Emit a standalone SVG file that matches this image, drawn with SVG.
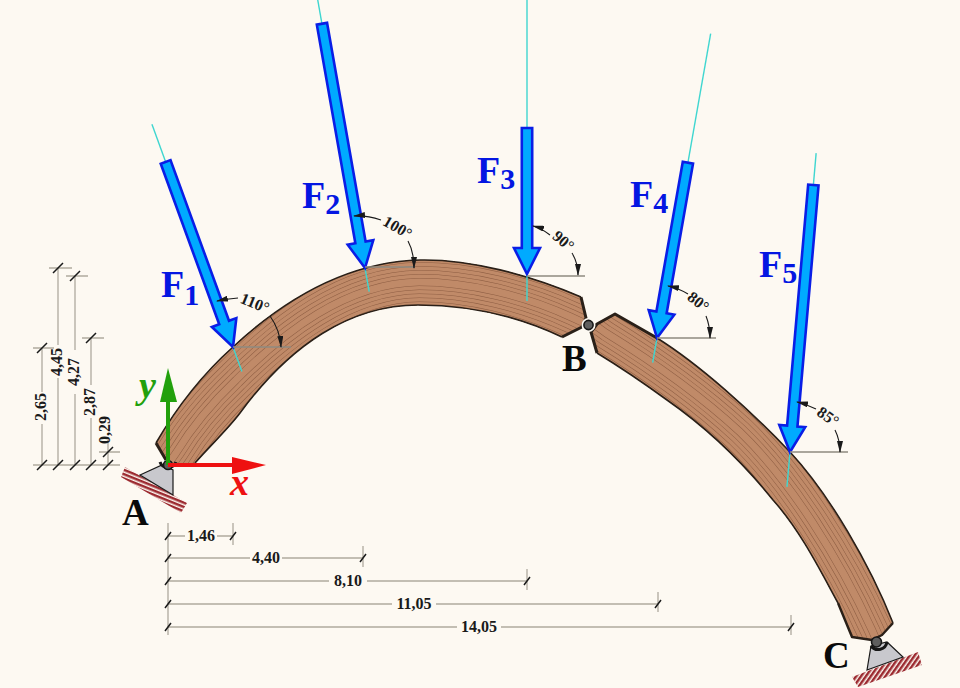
<svg xmlns="http://www.w3.org/2000/svg" xmlns:xlink="http://www.w3.org/1999/xlink" width="960" height="688" viewBox="0 0 960 688">
<style>
text{font-family:"Liberation Serif","Times New Roman",serif;font-weight:bold}
.dim{font-size:16px;fill:#1a1a1a;text-anchor:middle}
.ang{font-size:16px;fill:#1a1a1a;text-anchor:middle}
.lab{font-size:37px;fill:#0a0a0a}
.f{font-size:38px;fill:#0416e2}
.f tspan{font-size:30px}
.dl{stroke:#b0aa9e;stroke-width:1.3;fill:none}
.tk{stroke:#1a1a1a;stroke-width:1.5;fill:none}
.hz{stroke:#8f8a80;stroke-width:1.3;fill:none}
.am{stroke:#1a1a1a;stroke-width:1.1;fill:none;marker-end:url(#ah)}
.cy{stroke:#3fd6d0;stroke-width:1.4;fill:none}
.fa{fill:#00aaff;stroke:#0a1ee6;stroke-width:2.6;stroke-linejoin:miter}
.ol{fill:none;stroke:#2a2018;stroke-width:1.6;stroke-linejoin:round}
.jt{fill:none;stroke:#2a2018;stroke-width:3;stroke-linejoin:round}
.sp{fill:#c8c8cd;stroke:#1a1a1a;stroke-width:1.2}
.hg{fill:#5e5e5e;stroke:#161616;stroke-width:1.6}
.wa{stroke:#8f5f44;fill:none;stroke-linejoin:round}
.wb{stroke:#c08a68;fill:none;stroke-linejoin:round}
</style>
<defs>
<marker id="ah" markerUnits="userSpaceOnUse" viewBox="0 0 12 6" refX="11" refY="3" markerWidth="12" markerHeight="6" orient="auto"><path d="M0,0 L12,3 L0,6 Z" fill="#1a1a1a"/></marker>
<pattern id="hA" patternUnits="userSpaceOnUse" width="4" height="4" patternTransform="rotate(22)"><rect width="4" height="2.5" fill="#9c2a30"/></pattern>
<pattern id="hC" patternUnits="userSpaceOnUse" width="4" height="4" patternTransform="rotate(-55)"><rect width="4" height="2.5" fill="#9c2a30"/></pattern>
<clipPath id="cl"><path d="M156,443 C178,405 205,372 233,347 C275,308 340,262 420,260 C470,259 530,275 581,297 L586,318 L582,327 L562,337 C520,317 470,305 418,305 C350,305 290,345 240,413 C228,429 208,448 195,463 L168,465 L166,460 Z"/></clipPath>
<clipPath id="cr"><path d="M615,314 L657,338 C700,365 750,410 790,452 C830,495 870,565 893,623 L882,635 L872,640 L852,637 L838,603 C820,570 800,530 773,500 C745,465 710,430 667,400 C645,384 620,367 597,353 L591,332 L597,324 Z"/></clipPath>
<path id="lc" d="M150,490 L176,453 C193,425 215,400 236,380 C282,334 345,283 419,282 C470,282 525,296 571,317 L610,335"/>
<path id="rc" d="M585,318 L606,333 C650,360 700,395 740,432 C790,480 840,560 872,630 L885,660"/>
</defs>
<rect width="960" height="688" fill="#fdf9f2"/>

<g id="dimensions">
<path class="dl" d="M42,349V392M42,424V465M58,268V345M58,378V465M75,276V350M75,394V465M91,338V385M91,418V465M108,452V447M108,440V465"/>
<path class="dl" d="M33,465H120M33,348H54M49,268H72M66,276H88M82,338H104M99,452H120"/>
<path class="tk" d="M37,470L47,460M53,470L63,460M70,470L80,460M86,470L96,460M103,470L113,460M37,353L47,343M53,273L63,263M70,281L80,271M86,343L96,333M103,457L113,447"/>
<text class="dim" transform="translate(46,407) rotate(-90)">2,65</text>
<text class="dim" transform="translate(62,362) rotate(-90)">4,45</text>
<text class="dim" transform="translate(79,372) rotate(-90)">4,27</text>
<text class="dim" transform="translate(95,402) rotate(-90)">2,87</text>
<text class="dim" transform="translate(110,430) rotate(-90)">0,29</text>
<path class="dl" d="M168,523V635M233,523V545M363,546V567M527,569V590M658,592V612M791,615V635"/>
<path class="dl" d="M168,536H185M217,536H233M168,558H250M282,558H363M168,581H329M367,581H527M168,604H392M436,604H658M168,627H457M501,627H791"/>
<path class="tk" d="M165,540L171,532M230,540L236,532M360,562L366,554M524,585L530,577M655,608L661,600M788,631L794,623M165,562L171,554M165,585L171,577M165,608L171,600M165,631L171,623"/>
<text class="dim" x="201" y="541">1,46</text>
<text class="dim" x="266" y="563">4,40</text>
<text class="dim" x="348" y="586">8,10</text>
<text class="dim" x="414" y="609">11,05</text>
<text class="dim" x="479" y="632">14,05</text>
</g>

<g id="support-A">
<polygon fill="url(#hA)" points="125,467 187,503 181,513 121,477"/>
<polygon class="sp" points="140,475 162,465 173,470 173,495"/>
</g>
<g id="support-C">
<polygon fill="url(#hC)" points="918,652 922,665 858,687 852,677"/>
<polygon class="sp" points="867,670 903,657 887,642 871,646"/>
</g>

<g id="arch-AB">
<g clip-path="url(#cl)">
<rect x="140" y="250" width="460" height="230" fill="#c08a68"/>
<use href="#lc" class="wa" stroke-width="88"/><use href="#lc" class="wb" stroke-width="87"/>
<use href="#lc" class="wa" stroke-width="80"/><use href="#lc" class="wb" stroke-width="79"/>
<use href="#lc" class="wa" stroke-width="72"/><use href="#lc" class="wb" stroke-width="71"/>
<use href="#lc" class="wa" stroke-width="64"/><use href="#lc" class="wb" stroke-width="63"/>
<use href="#lc" class="wa" stroke-width="56"/><use href="#lc" class="wb" stroke-width="55"/>
<use href="#lc" class="wa" stroke-width="48"/><use href="#lc" class="wb" stroke-width="47"/>
<use href="#lc" class="wa" stroke-width="40"/><use href="#lc" class="wb" stroke-width="39"/>
<use href="#lc" class="wa" stroke-width="32"/><use href="#lc" class="wb" stroke-width="31"/>
<use href="#lc" class="wa" stroke-width="24"/><use href="#lc" class="wb" stroke-width="23"/>
<use href="#lc" class="wa" stroke-width="16"/><use href="#lc" class="wb" stroke-width="15"/>
<use href="#lc" class="wa" stroke-width="8"/><use href="#lc" class="wb" stroke-width="7"/>
</g>
<path class="ol" d="M156,443 C178,405 205,372 233,347 C275,308 340,262 420,260 C470,259 530,275 581,297"/>
<path class="ol" d="M562,337 C520,317 470,305 418,305 C350,305 290,345 240,413 C228,429 208,448 195,463"/>
<path class="jt" d="M581,297 L586,318 L582,327 L562,337"/>
<path class="jt" d="M156,443 L166,460"/>
</g>

<g id="arch-BC">
<g clip-path="url(#cr)">
<rect x="585" y="305" width="315" height="340" fill="#c08a68"/>
<use href="#rc" class="wa" stroke-width="88"/><use href="#rc" class="wb" stroke-width="87"/>
<use href="#rc" class="wa" stroke-width="80"/><use href="#rc" class="wb" stroke-width="79"/>
<use href="#rc" class="wa" stroke-width="72"/><use href="#rc" class="wb" stroke-width="71"/>
<use href="#rc" class="wa" stroke-width="64"/><use href="#rc" class="wb" stroke-width="63"/>
<use href="#rc" class="wa" stroke-width="56"/><use href="#rc" class="wb" stroke-width="55"/>
<use href="#rc" class="wa" stroke-width="48"/><use href="#rc" class="wb" stroke-width="47"/>
<use href="#rc" class="wa" stroke-width="40"/><use href="#rc" class="wb" stroke-width="39"/>
<use href="#rc" class="wa" stroke-width="32"/><use href="#rc" class="wb" stroke-width="31"/>
<use href="#rc" class="wa" stroke-width="24"/><use href="#rc" class="wb" stroke-width="23"/>
<use href="#rc" class="wa" stroke-width="16"/><use href="#rc" class="wb" stroke-width="15"/>
<use href="#rc" class="wa" stroke-width="8"/><use href="#rc" class="wb" stroke-width="7"/>
</g>
<path class="ol" d="M657,338 C700,365 750,410 790,452 C830,495 870,565 893,623"/>
<path class="ol" d="M838,603 C820,570 800,530 773,500 C745,465 710,430 667,400 C645,384 620,367 597,353"/>
<path class="jt" d="M597,353 L591,332 L597,324 L615,314 L657,338"/>
<path class="jt" d="M893,623 L882,635 L872,640 L852,637 L838,603" style="stroke-width:2.4"/>
</g>

<g id="hinge-A"><path d="M160,462 A8.5,8.5 0 0 0 176,462" fill="none" stroke="#161616" stroke-width="3"/><circle class="hg" cx="168" cy="465" r="4.5"/></g>
<g id="hinge-B"><circle cx="588.5" cy="325" r="7" fill="#fdf9f2"/><circle class="hg" cx="588.5" cy="325" r="4.6"/></g>
<g id="hinge-C"><path d="M871,646 A9,9 0 0 0 887,642" fill="none" stroke="#161616" stroke-width="3"/><circle class="hg" cx="876.5" cy="642" r="5"/></g>

<g id="axis-y"><path d="M168,465V400" stroke="#22a00c" stroke-width="4" fill="none"/><polygon points="160,402 177,402 168,368" fill="#22a00c"/><text x="139" y="398" style="font-size:38px;font-style:italic;fill:#22a00c">y</text></g>
<g id="axis-x"><path d="M168,465H233" stroke="#ee1111" stroke-width="4" fill="none"/><polygon points="232,457 232,474 266,465" fill="#ee1111"/><text x="230" y="495" style="font-size:38px;font-style:italic;fill:#ee1111">x</text></g>

<g id="force-1" transform="translate(233,347) rotate(-20)"><path class="cy" d="M0,-237V26"/><polygon class="fa" points="0,0 13,-26 5.2,-26 5.2,-197 -5.2,-197 -5.2,-26 -13,-26"/></g>
<g id="force-2" transform="translate(365,268) rotate(-10)"><path class="cy" d="M0,-275V24"/><polygon class="fa" points="0,0 13,-26 5.2,-26 5.2,-248 -5.2,-248 -5.2,-26 -13,-26"/></g>
<g id="force-3" transform="translate(527,274)"><path class="cy" d="M0,-274V27"/><polygon class="fa" points="0,0 13,-26 5.2,-26 5.2,-146 -5.2,-146 -5.2,-26 -13,-26"/></g>
<g id="force-4" transform="translate(657,338) rotate(10)"><path class="cy" d="M0,-309V25"/><polygon class="fa" points="0,0 13,-26 5.2,-26 5.2,-178 -5.2,-178 -5.2,-26 -13,-26"/></g>
<g id="force-5" transform="translate(790,452) rotate(5)"><path class="cy" d="M0,-300V35"/><polygon class="fa" points="0,0 13,-26 5.2,-26 5.2,-268 -5.2,-268 -5.2,-26 -13,-26"/></g>

<g id="angles">
<path class="hz" d="M233,347H291M365,267H415M527,276H585M657,338H716M790,452H848"/>
<path class="am" d="M238,298 Q226,299 217,301"/>
<path class="am" d="M270,316 Q280,330 281,347"/>
<path class="am" d="M381,220 Q366,215 354,216"/>
<path class="am" d="M408,241 Q414,252 414,268"/>
<path class="am" d="M550,235 Q541,228 533,226"/>
<path class="am" d="M572,253 Q578,263 578,275"/>
<path class="am" d="M688,294 Q678,288 668,286"/>
<path class="am" d="M706,316 Q710,326 710,338"/>
<path class="am" d="M816,409 Q806,404 797,402"/>
<path class="am" d="M835,430 Q840,440 840,452"/>
<text class="ang" transform="translate(253,308) rotate(22)">110°</text>
<text class="ang" transform="translate(395,232) rotate(30)">100°</text>
<text class="ang" transform="translate(560,245) rotate(40)">90°</text>
<text class="ang" transform="translate(695,306) rotate(38)">80°</text>
<text class="ang" transform="translate(825,421) rotate(35)">85°</text>
</g>

<g id="labels">
<text class="f" x="161" y="297">F<tspan dy="8">1</tspan></text>
<text class="f" x="302" y="208">F<tspan dy="6">2</tspan></text>
<text class="f" x="477" y="183">F<tspan dy="6">3</tspan></text>
<text class="f" x="630" y="207">F<tspan dy="6">4</tspan></text>
<text class="f" x="759" y="277">F<tspan dy="6">5</tspan></text>
<text class="lab" x="122" y="525">A</text>
<text class="lab" x="562" y="371">B</text>
<text class="lab" x="823" y="668">C</text>
</g>
</svg>
